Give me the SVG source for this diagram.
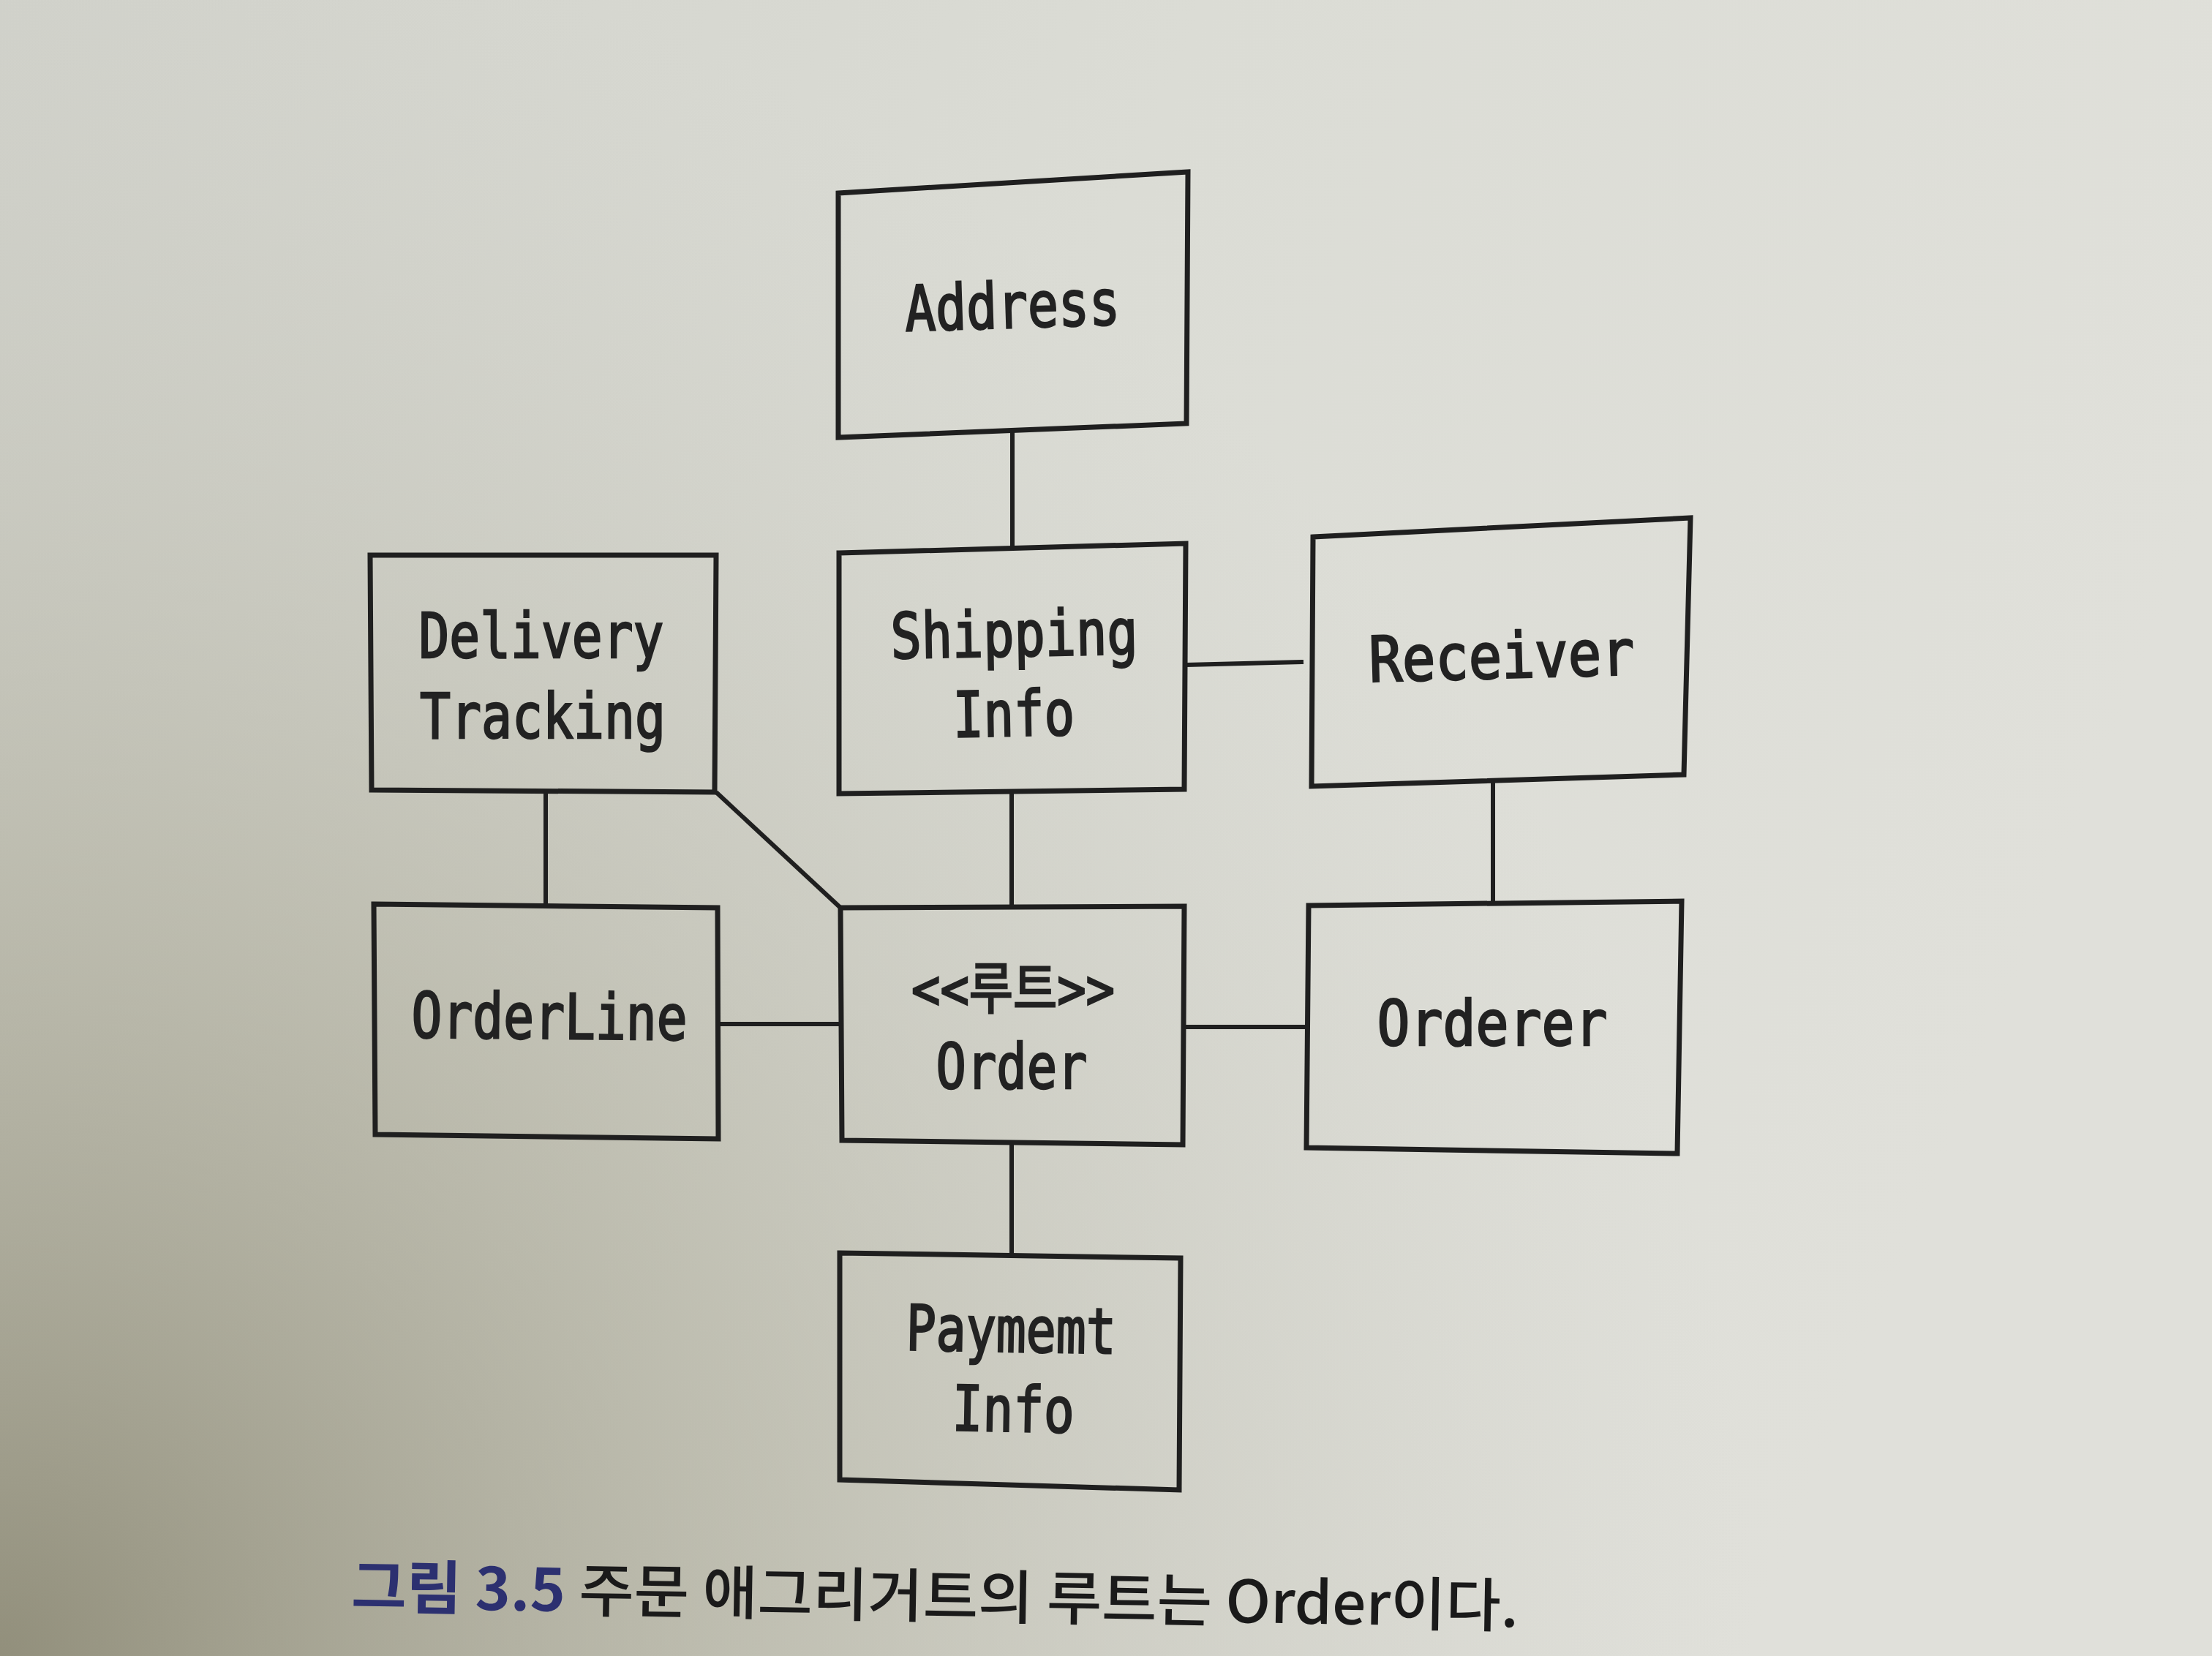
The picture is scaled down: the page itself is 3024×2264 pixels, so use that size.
<svg xmlns="http://www.w3.org/2000/svg" width="3024" height="2264" viewBox="0 0 3024 2264">
<defs>
<linearGradient id="bg" x1="0" y1="0" x2="1" y2="0.3">
<stop offset="0" stop-color="#d1d2cb"/>
<stop offset="0.5" stop-color="#dbdcd5"/>
<stop offset="1" stop-color="#e0e0da"/>
</linearGradient>
<radialGradient id="shade" cx="0" cy="2264" r="2400" gradientUnits="userSpaceOnUse">
<stop offset="0" stop-color="#8a8772" stop-opacity="0.9"/>
<stop offset="0.45" stop-color="#a6a491" stop-opacity="0.5"/>
<stop offset="1" stop-color="#c8c8c0" stop-opacity="0"/>
</radialGradient>
<style>
.box{fill:none;stroke:#1f1f1f;stroke-width:7;stroke-linejoin:miter}
.conn{fill:none;stroke:#1f1f1f;stroke-width:6}
.lbl{font-family:"DejaVu Sans Mono","Noto Sans CJK KR",monospace;font-size:86px;font-weight:normal;fill:#222;stroke:#222;stroke-width:2.5;text-anchor:middle}
.cap{font-family:"Noto Sans CJK KR","Noto Sans",sans-serif;font-size:80px;font-weight:500;fill:#1a1a1a}
.capb{fill:#2c3070;font-weight:bold}
</style>
</defs>
<rect width="3024" height="2264" fill="url(#bg)"/>
<rect width="3024" height="2264" fill="url(#shade)"/>

<g id="connectors">
<line class="conn" x1="1384" y1="588" x2="1384" y2="750"/>
<line class="conn" x1="1383" y1="1082" x2="1383" y2="1240"/>
<line class="conn" x1="1383" y1="1562" x2="1383" y2="1716"/>
<line class="conn" x1="1621" y1="909" x2="1782" y2="905"/>
<line class="conn" x1="2041" y1="1067" x2="2041" y2="1235"/>
<line class="conn" x1="746" y1="1082" x2="746" y2="1238"/>
<line class="conn" x1="979" y1="1083" x2="1149" y2="1241"/>
<line class="conn" x1="982" y1="1400" x2="1150" y2="1400"/>
<line class="conn" x1="1618" y1="1404" x2="1787" y2="1404"/>
</g>

<g id="address">
<polygon class="box" points="1146,264 1624,235 1622,579 1146,598"/>
<text class="lbl" x="1384" y="448" textLength="294" lengthAdjust="spacingAndGlyphs" transform="rotate(-1.8 1384 420)">Address</text>
</g>

<g id="shipping-info">
<polygon class="box" points="1147,756 1621,743 1619,1079 1147,1085"/>
<text class="lbl" x="1387" y="897" textLength="338" lengthAdjust="spacingAndGlyphs" transform="rotate(-1 1387 900)">Shipping</text>
<text class="lbl" x="1386" y="1006" textLength="166" lengthAdjust="spacingAndGlyphs" transform="rotate(-1 1386 980)">Info</text>
</g>

<g id="receiver">
<polygon class="box" points="1795,734 2311,708 2302,1059 1793,1075"/>
<text class="lbl" x="2053" y="927" textLength="363" lengthAdjust="spacingAndGlyphs" transform="rotate(-1.6 2053 900)">Receiver</text>
</g>

<g id="delivery-tracking">
<polygon class="box" points="506,759 979,759 977,1083 508,1080"/>
<text class="lbl" x="740" y="899" textLength="335" lengthAdjust="spacingAndGlyphs">Delivery</text>
<text class="lbl" x="742" y="1009" textLength="336" lengthAdjust="spacingAndGlyphs">Tracking</text>
</g>

<g id="order-line">
<polygon class="box" points="511,1236 981,1241 982,1557 513,1551"/>
<text class="lbl" x="751" y="1420" textLength="377" lengthAdjust="spacingAndGlyphs" transform="rotate(0.5 751 1400)">OrderLine</text>
</g>

<g id="order">
<polygon class="box" points="1149,1241 1619,1239 1617,1565 1151,1559"/>
<text class="lbl" x="1385" y="1379" textLength="278" lengthAdjust="spacingAndGlyphs" style="font-size:76px">&lt;&lt;루트&gt;&gt;</text>
<text class="lbl" x="1383" y="1488" textLength="207" lengthAdjust="spacingAndGlyphs">Order</text>
</g>

<g id="orderer">
<polygon class="box" points="1789,1238 2299,1232 2293,1577 1786,1569"/>
<text class="lbl" x="2040" y="1429" textLength="315" lengthAdjust="spacingAndGlyphs">Orderer</text>
</g>

<g id="payment-info">
<polygon class="box" points="1148,1713 1614,1720 1612,2037 1148,2023"/>
<text class="lbl" x="1382" y="1848" textLength="287" lengthAdjust="spacingAndGlyphs" transform="rotate(1 1382 1830)">Paymemt</text>
<text class="lbl" x="1385" y="1957" textLength="167" lengthAdjust="spacingAndGlyphs" transform="rotate(1 1385 1940)">Info</text>
</g>

<g id="caption">
<text class="cap" x="480" y="2198" textLength="1596" lengthAdjust="spacingAndGlyphs" transform="rotate(0.95 480 2198)"><tspan class="capb">그림 3.5</tspan> 주문 애그리거트의 루트는 Order이다.</text>
</g>
</svg>
